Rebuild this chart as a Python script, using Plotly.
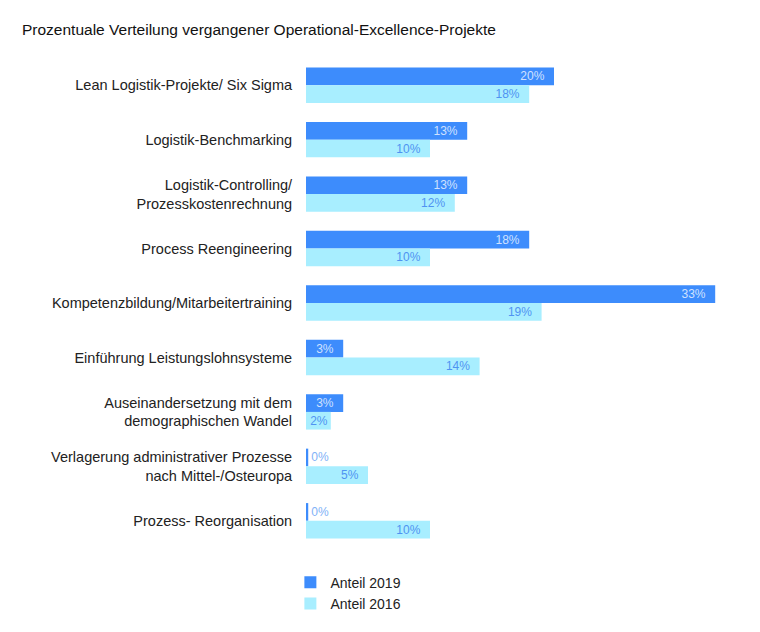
import plotly.graph_objects as go

categories = [
    "Lean Logistik-Projekte/ Six Sigma",
    "Logistik-Benchmarking",
    "Logistik-Controlling/<br>Prozesskostenrechnung",
    "Process Reengineering",
    "Kompetenzbildung/Mitarbeitertraining",
    "Einführung Leistungslohnsysteme",
    "Auseinandersetzung mit dem<br>demographischen Wandel",
    "Verlagerung administrativer Prozesse<br>nach Mittel-/Osteuropa",
    "Prozess- Reorganisation",
]
anteil_2019 = [20, 13, 13, 18, 33, 3, 3, 0, 0]
anteil_2016 = [18, 10, 12, 10, 19, 14, 2, 5, 10]

DARK = "#3d8cfc"
LIGHT = "#a8eeff"
FONT = "Liberation Sans, Arial, sans-serif"

def shown(vals):
    # zero values drawn as a hairline, as in the reference
    return [v if v > 0 else 0.18 for v in vals]

def texts(vals):
    return [f"{v}%\u00a0\u00a0" if v > 2 else f"{v}%" for v in vals]

def positions(vals):
    return ["inside" if v > 0 else "outside" for v in vals]

fig = go.Figure()
fig.add_trace(go.Bar(
    y=categories, x=shown(anteil_2019), orientation="h", name="Anteil 2019",
    marker=dict(color=DARK, line=dict(width=0)),
    text=texts(anteil_2019), textposition=positions(anteil_2019),
    insidetextanchor="end", constraintext="none",
    insidetextfont=dict(color="#cfe1ff", size=12, family=FONT),
    outsidetextfont=dict(color="#7fb2f7", size=12, family=FONT),
    cliponaxis=False, hoverinfo="skip",
))
fig.add_trace(go.Bar(
    y=categories, x=shown(anteil_2016), orientation="h", name="Anteil 2016",
    marker=dict(color=LIGHT, line=dict(width=0)),
    text=texts(anteil_2016), textposition=positions(anteil_2016),
    insidetextanchor="end", constraintext="none",
    insidetextfont=dict(color="#4f93f2", size=12, family=FONT),
    outsidetextfont=dict(color="#7fb2f7", size=12, family=FONT),
    cliponaxis=False, hoverinfo="skip",
))

fig.update_layout(
    width=760, height=632,
    margin=dict(l=306, r=20, t=58, b=75),
    paper_bgcolor="white", plot_bgcolor="white",
    barmode="group", bargap=0.35, bargroupgap=0,
    font=dict(family=FONT, size=14, color="#222222"),
    title=dict(text="Prozentuale Verteilung vergangener Operational-Excellence-Projekte",
               x=22/760, xanchor="left", y=1-30/632, yanchor="middle",
               font=dict(size=15.5, color="#111111", family=FONT)),
    legend=dict(orientation="v", x=-0.036, xanchor="left", y=-0.038, yanchor="top",
                font=dict(size=14, color="#222222", family=FONT),
                traceorder="normal", itemsizing="constant", tracegroupgap=0),
    showlegend=True,
)
fig.update_xaxes(range=[0, 35], visible=False, showgrid=False, zeroline=False)
fig.update_yaxes(autorange="reversed", showgrid=False, zeroline=False, showline=False,
                 ticks="outside", ticklen=10, tickcolor="rgba(0,0,0,0)",
                 tickfont=dict(size=14.5, color="#222222", family=FONT))

fig.write_html("out.html")
